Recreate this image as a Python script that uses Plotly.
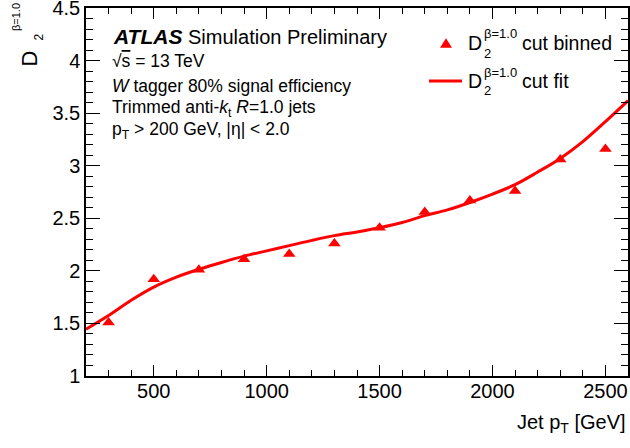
import plotly.graph_objects as go

# ---- data ----
pt_binned = [300, 500, 700, 900, 1100, 1300, 1500, 1700, 1900, 2100, 2300, 2500]
d2_binned = [1.51, 1.92, 2.01, 2.11, 2.16, 2.26, 2.41, 2.56, 2.67, 2.76, 3.06, 3.16]

pt_fit = [200, 300, 400, 500, 600, 700, 800, 900, 1000, 1100, 1200, 1300, 1400,
          1500, 1600, 1700, 1800, 1900, 2000, 2100, 2200, 2300, 2400, 2500, 2600]
d2_fit = [1.445, 1.575, 1.72, 1.845, 1.94, 2.015, 2.08, 2.14, 2.19, 2.24, 2.29, 2.335, 2.37,
          2.41, 2.46, 2.525, 2.58, 2.65, 2.73, 2.82, 2.94, 3.07, 3.23, 3.42, 3.62]

x_range = [200, 2600]
y_range = [1.0, 4.5005]
x_ticks = [500, 1000, 1500, 2000, 2500]
y_ticks = [1, 1.5, 2, 2.5, 3, 3.5, 4, 4.5]
y_ticklabels = ["1", "1.5", "2", "2.5", "3", "3.5", "4", "4.5"]

RED = "#ff0000"
FONT = "Liberation Sans, Arial, Helvetica, sans-serif"

W, H = 630, 448
L, R, T, B = 86, 2, 8, 72
PW = W - L - R
PH = H - T - B


def px(X):
    return (X - L) / PW


def py(Y):
    return (H - B - Y) / PH


fig = go.Figure()
fig.add_trace(go.Scatter(x=pt_fit, y=d2_fit, mode="lines",
                         line=dict(color=RED, width=3, shape="spline", smoothing=1.0),
                         showlegend=False, hoverinfo="skip"))
fig.add_trace(go.Scatter(x=pt_binned, y=d2_binned, mode="markers",
                         marker=dict(symbol="triangle-up", size=11, color=RED, line=dict(width=0)),
                         showlegend=False))

axis_common = dict(showgrid=False, zeroline=False, showline=True, linecolor="black",
                   linewidth=1.5, ticks="inside", tickcolor="black", tickwidth=1.2,
                   mirror="ticks", ticklabeloverflow="allow", automargin=False,
                   tickfont=dict(family=FONT, size=20, color="black"))

fig.update_xaxes(range=x_range, tickvals=x_ticks, ticklen=11, ticklabelstandoff=-4,
                 minor=dict(dtick=100, tick0=0, ticklen=6, ticks="inside", tickcolor="black", tickwidth=1.2),
                 **axis_common)
fig.update_yaxes(range=y_range, tickvals=y_ticks, ticktext=y_ticklabels, ticklen=14,
                 minor=dict(dtick=0.1, tick0=0, ticklen=7, ticks="inside", tickcolor="black", tickwidth=1.2),
                 **axis_common)

ann = []


def text(X, Y, s, size, xanchor="left", yanchor="middle", angle=0):
    ann.append(dict(x=px(X), y=py(Y), xref="paper", yref="paper", text=s, showarrow=False,
                    xanchor=xanchor, yanchor=yanchor, textangle=angle,
                    font=dict(family=FONT, size=size, color="black")))


# ATLAS label block
text(111, 36, "<b><i><span style='font-size:21px'>ATLAS</span></i></b> Simulation Preliminary", 20)
text(110, 61, "√<span style='text-decoration:overline'>s</span> = 13 TeV", 17.5)
text(110, 86, "<i>W</i> tagger 80% signal efficiency", 17.5)
text(110, 108, "Trimmed anti-<i>k</i><sub>t</sub> <i>R</i>=1.0 jets", 17.5)
text(110, 130, "p<sub>T</sub> &gt; 200 GeV, |η| &lt; 2.0", 17.5)

# Legend (custom, stacked super/subscripts)
for yc, ysup, ysub, label in [(42.5, 33, 53.5, "cut binned"), (81.5, 73, 90, "cut fit")]:
    text(475, yc, "D", 19.5, xanchor="center")
    text(482, ysup, "β=1.0", 13)
    text(482, ysub, "2", 13)
    text(520, yc, label, 19.5)

# legend keys
tri_cx, tri_cy, tri_w, tri_h = 446, 43, 12, 9.5
fig.add_shape(type="path", xref="paper", yref="paper",
              path="M {} {} L {} {} L {} {} Z".format(
                  px(tri_cx - tri_w / 2), py(tri_cy + tri_h / 2),
                  px(tri_cx + tri_w / 2), py(tri_cy + tri_h / 2),
                  px(tri_cx), py(tri_cy - tri_h / 2)),
              fillcolor=RED, line=dict(width=0))
fig.add_shape(type="line", xref="paper", yref="paper",
              x0=px(429), x1=px(462), y0=py(81), y1=py(81),
              line=dict(color=RED, width=3))

# Y axis title (stacked)
text(28.5, 59, "D", 22, xanchor="center", yanchor="middle", angle=-90)
text(16.5, 17.5, "β=1.0", 11, xanchor="center", yanchor="middle", angle=-90)
text(38.5, 37, "2", 12, xanchor="center", yanchor="middle", angle=-90)

# X axis title
text(628, 424, "Jet p<sub>T</sub> [GeV]", 20, xanchor="right")

fig.update_layout(width=W, height=H, margin=dict(l=L, r=R, t=T, b=B, autoexpand=False),
                  paper_bgcolor="white", plot_bgcolor="white", annotations=ann,
                  font=dict(family=FONT, color="black"))

fig.write_html("out.html", config={"displayModeBar": False},
               post_script="document.body.style.margin='0';document.body.style.overflow='hidden';")
